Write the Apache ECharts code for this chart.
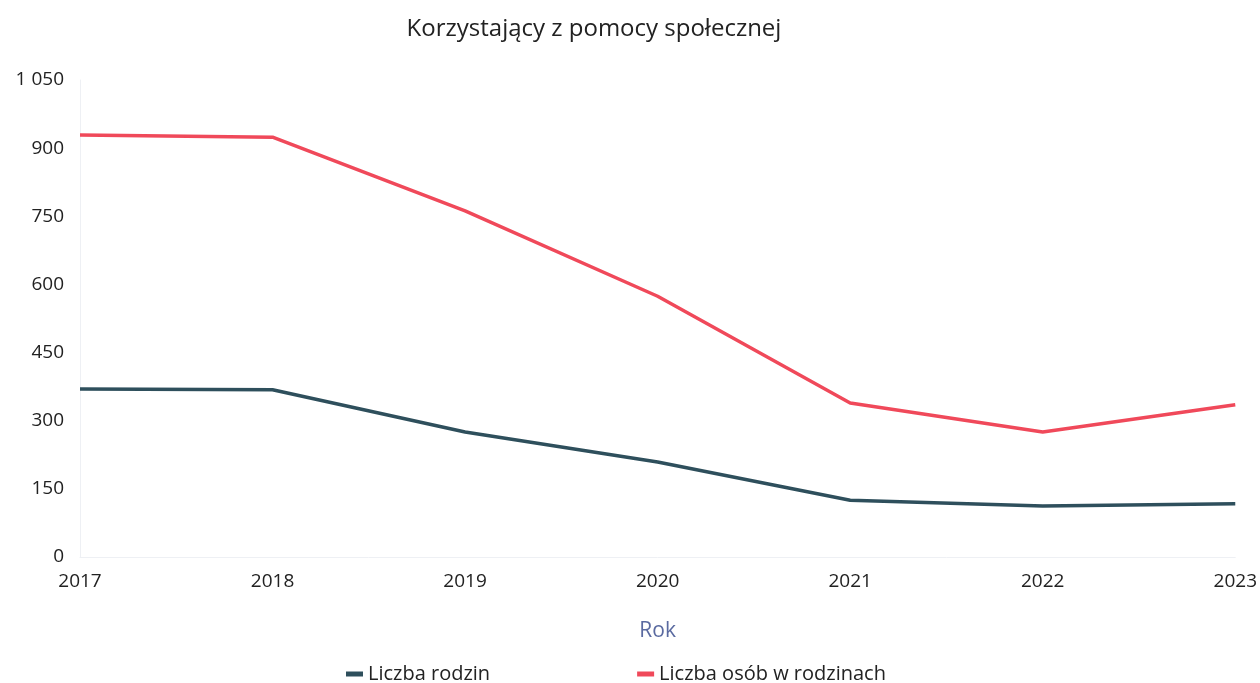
<!DOCTYPE html>
<html>
<head>
<meta charset="utf-8">
<script src="https://cdn.jsdelivr.net/npm/echarts@6/dist/echarts.min.js"></script>
<style>
  html, body { margin: 0; padding: 0; background: #fff; }
  #chart { width: 1260px; height: 683px; }
</style>
</head>
<body>
<div id="chart"></div>
<script>
const years = ['2017', '2018', '2019', '2020', '2021', '2022', '2023'];
const rodziny = [370, 368, 275, 209, 125, 112, 117];
const osoby = [929, 924, 762, 574, 339, 275, 335];

let chartDom = document.getElementById('chart');
let myChart = echarts.init(chartDom);

let option = {
  backgroundColor: '#fff',
  textStyle: { fontFamily: 'Open Sans' },
  title: {
    text: 'Korzystający z pomocy społecznej',
    left: 589,
    top: 12,
    textAlign: 'center',
    textStyle: { fontFamily: 'Open Sans', fontSize: 24, fontWeight: 'normal', color: '#222' }
  },
  legend: {
    data: ['Liczba rodzin', 'Liczba osób w rodzinach'],
    left: 341,
    top: 659,
    itemGap: 147,
    itemWidth: 17,
    itemHeight: 5,
    icon: 'rect',
    textStyle: { fontFamily: 'Open Sans', fontSize: 20, color: '#222' }
  },
  grid: {
    left: 80,
    right: 23,
    top: 80,
    bottom: 126,
    containLabel: false
  },
  xAxis: {
    type: 'category',
    boundaryGap: false,
    data: years,
    name: 'Rok',
    nameLocation: 'middle',
    nameGap: 64,
    nameTextStyle: { fontFamily: 'Open Sans', fontSize: 21, color: '#5a6aa0' },
    axisLine: { lineStyle: { color: '#eef0f4' } },
    axisTick: { show: false },
    axisLabel: { fontFamily: 'Open Sans', fontSize: 19, color: '#222', margin: 15 }
  },
  yAxis: {
    type: 'value',
    min: 0,
    max: 1050,
    interval: 150,
    axisLine: { show: true, lineStyle: { color: '#eef0f4' } },
    splitLine: { show: false },
    axisTick: { show: false },
    axisLabel: {
      fontFamily: 'Open Sans',
      fontSize: 19,
      color: '#222',
      margin: 16,
      formatter: v => String(v).replace(/\B(?=(\d{3})+(?!\d))/g, ' ')
    }
  },
  series: [
    {
      name: 'Liczba rodzin',
      type: 'line',
      data: rodziny,
      showSymbol: false,
      color: '#2e4f5c',
      lineStyle: { color: '#2e4f5c', width: 3.5 }
    },
    {
      name: 'Liczba osób w rodzinach',
      type: 'line',
      data: osoby,
      showSymbol: false,
      color: '#f0495a',
      lineStyle: { color: '#f0495a', width: 3.5 }
    }
  ]
};
option && myChart.setOption(option);
</script>
</body>
</html>
